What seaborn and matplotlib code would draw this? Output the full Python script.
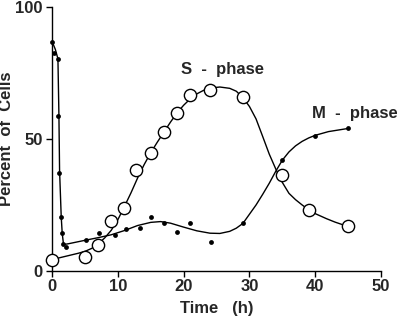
import numpy as np
import pandas as pd
import matplotlib
matplotlib.use("Agg")
import matplotlib.pyplot as plt
import seaborn as sns

# ── Data ──────────────────────────────────────────────────────────────────────
s_time = [0, 5, 7, 9, 11, 12.7, 15, 17, 19, 21, 24, 29, 35, 39, 45]
s_pct  = [4.3, 5.3, 10.0, 19.0, 23.8, 38.4, 44.8, 52.5, 59.7, 66.6, 68.7, 66.0, 36.2, 23.0, 17.0]

m_time = [0, 0.35, 0.95, 0.85, 1.06, 1.3, 1.5, 1.67, 2.1, 5.2, 7.1, 9.5, 11.2,
          13.3, 15.0, 17.0, 19.0, 20.9, 24.1, 29.0, 34.9, 39.9, 44.9]
m_pct  = [86.7, 82.7, 80.2, 58.7, 37.3, 20.3, 14.2, 10.1, 9.2, 11.6, 14.4, 13.8, 15.7,
          16.2, 20.3, 18.3, 14.7, 18.0, 10.9, 18.0, 42.0, 51.1, 54.1]

# fitted curves as drawn in the figure
s_fit_time = [0, 1, 2, 3, 4, 5, 6, 7, 8, 9, 10, 11, 12, 13, 14, 15, 16, 17, 18, 19,
              20, 21, 22, 23, 24, 25.5, 27, 28, 29, 30, 31, 32, 33, 34, 35, 36, 37,
              38, 39, 40, 41.7, 43, 45]
s_fit_pct  = [4.3, 4.9, 5.5, 6.1, 6.7, 7.4, 8.5, 10.2, 12.5, 15.4, 19.4, 24.4, 29.6,
              35.2, 40.3, 44.8, 48.8, 52.6, 56.4, 59.9, 62.8, 65.2, 67.1, 68.4, 69.3,
              69.7, 69.2, 68.1, 65.7, 62.3, 57.6, 51.0, 44.3, 38.6, 33.5, 29.4, 27.0,
              25.0, 23.2, 21.7, 19.8, 18.5, 16.8]

m_fit_time = [0, 0.5, 0.9, 1.05, 1.15, 1.4, 1.55, 1.75, 2.5, 5, 7, 9, 11, 13, 15,
              16.5, 18, 20, 22, 24, 25.5, 27, 28, 29, 30, 31, 32, 33, 34, 35, 36,
              37, 38, 39, 40, 42, 45]
m_fit_pct  = [87.0, 84.0, 80.4, 59.0, 38.0, 20.5, 14.3, 10.0, 10.3, 11.6, 12.6, 13.7,
              15.3, 17.2, 18.4, 18.7, 18.1, 16.6, 15.2, 14.3, 14.2, 15.0, 16.2, 18.0,
              21.5, 25.0, 29.0, 33.2, 37.8, 42.0, 45.1, 47.4, 49.1, 50.4, 51.4, 52.8,
              54.0]

X_TICKS = [0, 10, 20, 30, 40, 50]
Y_TICKS = [0, 50, 100]

# ── Style ─────────────────────────────────────────────────────────────────────
sns.set_style("ticks")
plt.rcParams["font.family"] = ["Liberation Sans", "DejaVu Sans"]
plt.rcParams["font.weight"] = "bold"

fig = plt.figure(figsize=(3.97, 3.21), dpi=100)
ax = fig.add_axes([0.131, 0.156, 0.829, 0.822])

s_df  = pd.DataFrame({"time": s_time, "pct": s_pct})
m_df  = pd.DataFrame({"time": m_time, "pct": m_pct})
sf_df = pd.DataFrame({"time": s_fit_time, "pct": s_fit_pct})
mf_df = pd.DataFrame({"time": m_fit_time, "pct": m_fit_pct})

sns.lineplot(data=sf_df, x="time", y="pct", sort=False, color="black",
             linewidth=1.0, ax=ax, zorder=2)
sns.lineplot(data=mf_df, x="time", y="pct", sort=False, color="black",
             linewidth=1.0, ax=ax, zorder=2)

sns.scatterplot(data=m_df, x="time", y="pct", color="black", s=12,
                edgecolor="black", linewidth=0, ax=ax, zorder=3, clip_on=False)
sns.scatterplot(data=s_df, x="time", y="pct", facecolor="white", s=78,
                edgecolor="black", linewidth=1.0, ax=ax, zorder=4, clip_on=False)

ax.text(25.9, 76.3, "S  -  phase", fontsize=12, fontweight="bold",
        ha="center", va="center")
ax.text(46.0, 59.7, "M  -  phase", fontsize=12, fontweight="bold",
        ha="center", va="center", clip_on=False)

ax.set_xlim(0, 50)
ax.set_ylim(0, 100)
ax.set_xticks(X_TICKS)
ax.set_yticks(Y_TICKS)
ax.set_xlabel("Time   (h)", fontsize=12, fontweight="bold", labelpad=5)
ax.set_ylabel("Percent  of  Cells", fontsize=12, fontweight="bold", labelpad=1)
ax.tick_params(labelsize=12, length=4, width=1.0, color="black")
ax.tick_params(axis="x", pad=1.5)
ax.tick_params(axis="y", pad=2.5)
for lbl in ax.get_xticklabels() + ax.get_yticklabels():
    lbl.set_fontweight("bold")
for side in ["left", "bottom"]:
    ax.spines[side].set_linewidth(1.0)
    ax.spines[side].set_color("black")
sns.despine(ax=ax)

fig.savefig("out.png", dpi=100)
plt.close(fig)
